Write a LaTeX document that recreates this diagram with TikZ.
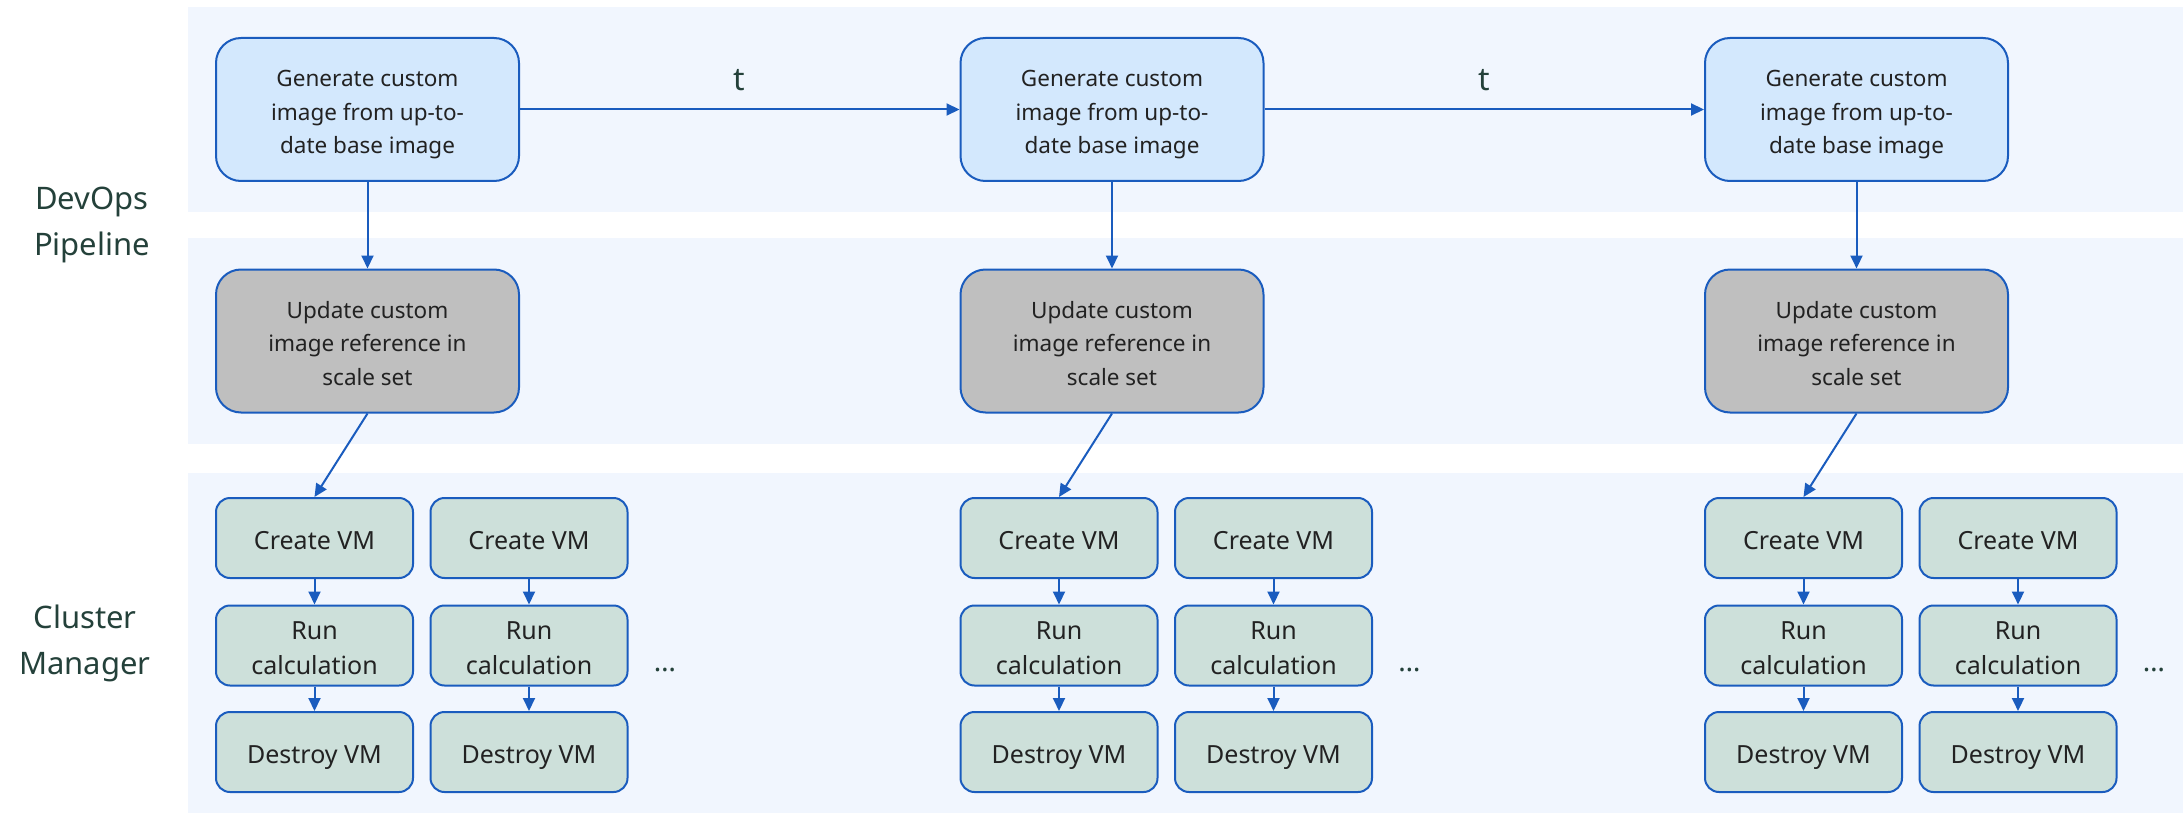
\documentclass[tikz,border=0pt]{standalone}
\usepackage{fontspec}
\setmainfont{Noto Sans}
\usetikzlibrary{arrows.meta}
\definecolor{bandc}{HTML}{F1F6FE}
\definecolor{genfill}{HTML}{D3E8FD}
\definecolor{updfill}{HTML}{BFBFBF}
\definecolor{vmfill}{HTML}{CDE0DA}
\definecolor{edge}{HTML}{1A5CBE}
\definecolor{txt}{HTML}{222222}
\definecolor{lbl}{HTML}{24413A}
\newcommand\lns[1]{\begin{tabular}{@{}c@{}}#1\end{tabular}}
\newcommand\blns[1]{\raisebox{-4pt}[\height][\depth]{\begin{tabular}{@{}c@{}}#1\end{tabular}}}
\tikzset{
  bandbox/.style={fill=bandc, draw=none},
  bigbox/.style={draw=edge, line width=2pt, rounded corners=25pt, minimum width=303pt, minimum height=143pt, align=center, text=txt, font=\fontsize{22.5}{33.5}\selectfont, inner sep=0pt},
  genbox/.style={bigbox, fill=genfill},
  updbox/.style={bigbox, fill=updfill},
  vmbox/.style={draw=edge, line width=2pt, rounded corners=14pt, fill=vmfill, minimum width=197pt, minimum height=80pt, align=center, text=txt, font=\fontsize{25}{35}\selectfont, inner sep=0pt},
  arr/.style={draw=edge, line width=2pt, -{Triangle[length=13pt,width=12pt]}},
  sidelabel/.style={text=lbl, align=center, font=\fontsize{31}{46}\selectfont},
  tlabel/.style={text=lbl, font=\fontsize{32}{46}\selectfont}
}
\begin{document}
\begin{tikzpicture}[x=1pt,y=-1pt]
\useasboundingbox (0,0) rectangle (2183,813);
\fill[bandc] (188,7) rectangle (2183,212);
\fill[bandc] (188,238) rectangle (2183,444);
\fill[bandc] (188,473) rectangle (2183,813);

\node[sidelabel] (devops) at (92,223) {\lns{DevOps\\Pipeline}};
\node[sidelabel] (cluster) at (85,642) {\lns{Cluster\\Manager}};

\foreach \i [evaluate=\i as \dx using (\i-1)*744.5] in {1,2,3} {
  \node[genbox] (g\i) at (367.5+\dx,109.5) {\blns{Generate custom\\image from up-to-\\date base image}};
  \node[updbox] (u\i) at (367.5+\dx,341) {\blns{Update custom\\image reference in\\scale set}};
  \node[vmbox] (ca\i) at (314.5+\dx,538) {\blns{Create VM}};
  \node[vmbox] (cb\i) at (529+\dx,538) {\blns{Create VM}};
  \node[vmbox] (ra\i) at (314.5+\dx,645.5) {\blns{Run\\calculation}};
  \node[vmbox] (rb\i) at (529+\dx,645.5) {\blns{Run\\calculation}};
  \node[vmbox] (da\i) at (314.5+\dx,752) {\blns{Destroy VM}};
  \node[vmbox] (db\i) at (529+\dx,752) {\blns{Destroy VM}};
  \node[text=lbl, font=\fontsize{28}{33}\bfseries] (dots\i) at (665+\dx,670) {…};
  \draw[arr] (g\i) -- (u\i);
  \draw[arr] (u\i.south) -- (ca\i.north);
  \draw[arr] (ca\i) -- (ra\i);
  \draw[arr] (ra\i) -- (da\i);
  \draw[arr] (cb\i) -- (rb\i);
  \draw[arr] (rb\i) -- (db\i);
}
\draw[arr] (g1) -- node[tlabel, above=14pt] (t1) {t} (g2);
\draw[arr] (g2) -- node[tlabel, above=14pt] (t2) {t} (g3);
\end{tikzpicture}
\end{document}
